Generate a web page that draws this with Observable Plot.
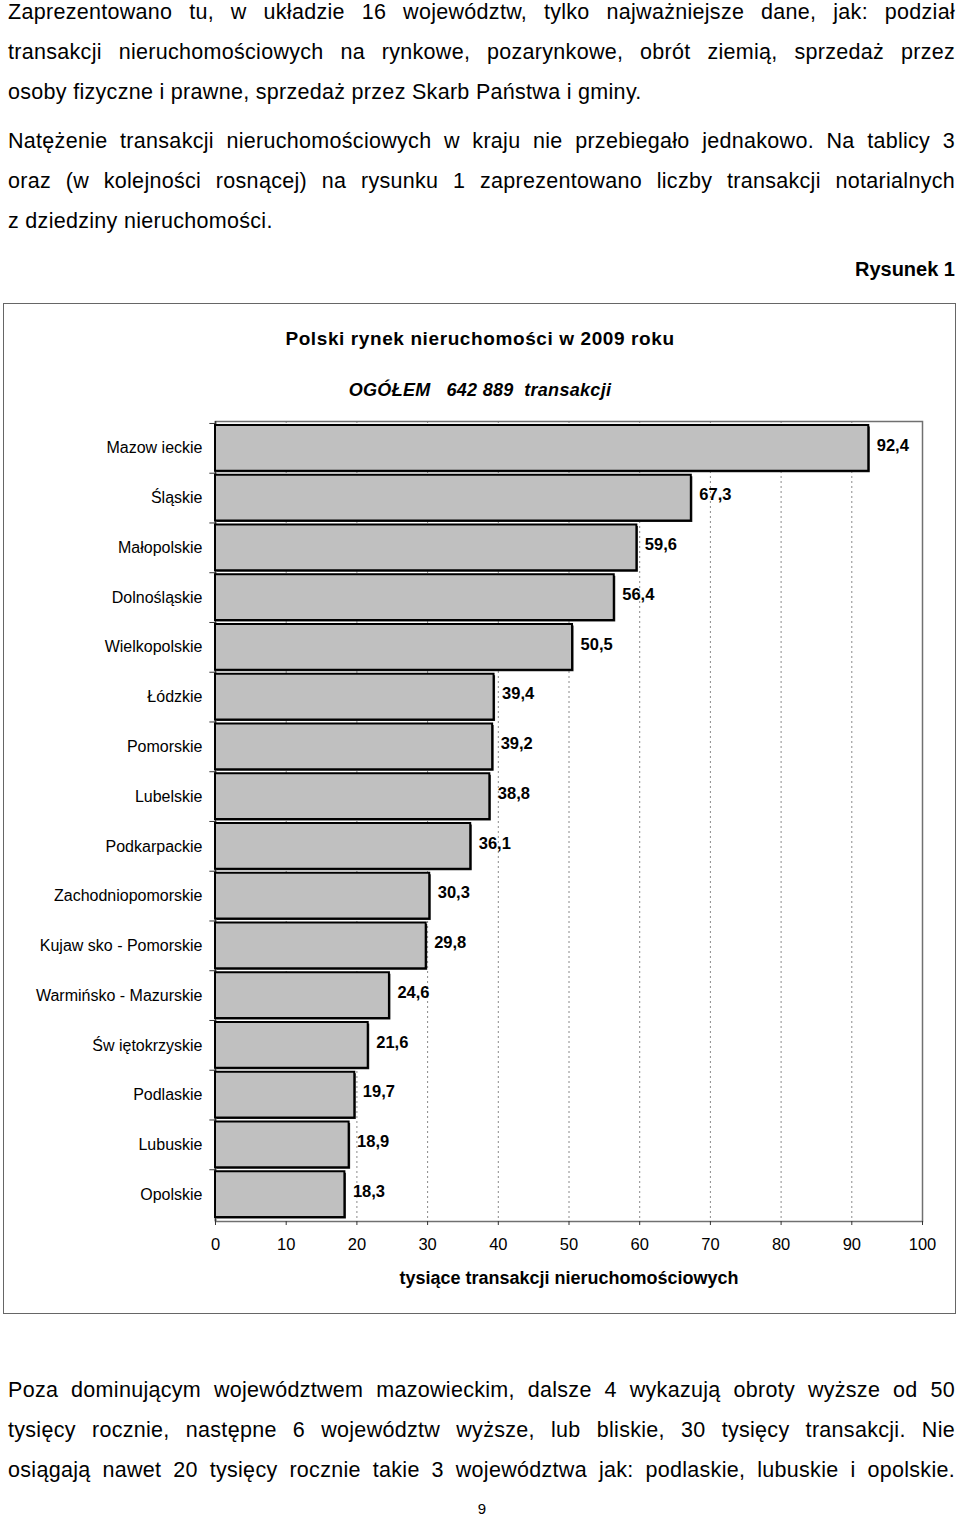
<!DOCTYPE html>
<html>
<head>
<meta charset="utf-8">
<script src="https://cdn.jsdelivr.net/npm/d3@7"></script>
<script src="https://cdn.jsdelivr.net/npm/@observablehq/plot@0.6"></script>
<style>
  html, body { margin: 0; padding: 0; background: #fff; }
  body { width: 960px; height: 1518px; position: relative; overflow: hidden; font-family: "Liberation Sans", Arial, sans-serif; color: #000; }
  .para { position: absolute; left: 8px; width: 947px; font-size: 21.5px; letter-spacing: 0.3px; line-height: 40px; }
  .para div { text-align: justify; text-align-last: justify; height: 40px; overflow: visible; }
  .para div.last { text-align-last: left; }
  .rys { position: absolute; right: 5px; top: 258px; font-size: 20px; font-weight: bold; }
  .box { position: absolute; left: 3px; top: 303px; width: 951px; height: 1009px; border: 1px solid #666; }
  .ctitle { position: absolute; left: 0; width: 960px; text-align: center; font-weight: bold; }
  #chart { position: absolute; left: 0; top: 400px; }
  .pnum { position: absolute; left: 0; width: 964px; text-align: center; top: 1500px; font-size: 15px; }
</style>
</head>
<body>
<div class="para" style="top:-8px;">
  <div>Zaprezentowano tu, w układzie 16 województw, tylko najważniejsze dane, jak: podział</div>
  <div>transakcji nieruchomościowych na rynkowe, pozarynkowe, obrót ziemią, sprzedaż przez</div>
  <div class="last">osoby fizyczne i prawne, sprzedaż przez Skarb Państwa i gminy.</div>
</div>
<div class="para" style="top:121px;">
  <div>Natężenie transakcji nieruchomościowych w kraju nie przebiegało jednakowo. Na tablicy 3</div>
  <div>oraz (w kolejności rosnącej) na rysunku 1 zaprezentowano liczby transakcji notarialnych</div>
  <div class="last">z dziedziny nieruchomości.</div>
</div>
<div class="rys">Rysunek 1</div>
<div class="box"></div>
<div class="ctitle" style="top:328px; font-size:19px; letter-spacing:0.6px;">Polski rynek nieruchomości w 2009 roku</div>
<div class="ctitle" style="top:380px; font-size:18px; font-style:italic; letter-spacing:0.3px;">OGÓŁEM&nbsp;&nbsp; 642 889&nbsp; transakcji</div>
<div id="chart"></div>
<div class="para" style="top:1370px;">
  <div>Poza dominującym województwem mazowieckim, dalsze 4 wykazują obroty wyższe od 50</div>
  <div>tysięcy rocznie, następne 6 województw wyższe, lub bliskie, 30 tysięcy transakcji. Nie</div>
  <div>osiągają nawet 20 tysięcy rocznie takie 3 województwa jak: podlaskie, lubuskie i opolskie.</div>
</div>
<div class="pnum">9</div>
<script>
const regions = ["Mazow ieckie","Śląskie","Małopolskie","Dolnośląskie","Wielkopolskie","Łódzkie","Pomorskie","Lubelskie","Podkarpackie","Zachodniopomorskie","Kujaw sko - Pomorskie","Warmińsko - Mazurskie","Św iętokrzyskie","Podlaskie","Lubuskie","Opolskie"];
const values = [92.4,67.3,59.6,56.4,50.5,39.4,39.2,38.8,36.1,30.3,29.8,24.6,21.6,19.7,18.9,18.3];
const valueLabels = ["92,4","67,3","59,6","56,4","50,5","39,4","39,2","38,8","36,1","30,3","29,8","24,6","21,6","19,7","18,9","18,3"];
const xTicks = [0,10,20,30,40,50,60,70,80,90,100];
const gridTicks = [10,20,30,40,50,60,70,80,90];
const xLabel = "tysiące transakcji nieruchomościowych";

const data = regions.map((name, i) => ({name, value: values[i], label: valueLabels[i]}));

const chart = Plot.plot({
  width: 960,
  height: 900,
  marginLeft: 215,
  marginRight: 38,
  marginTop: 21,
  marginBottom: 79,
  style: {fontFamily: "Liberation Sans, Arial, sans-serif", fontSize: "16px", color: "#000", background: "transparent"},
  x: {domain: [0, 100]},
  y: {domain: regions, padding: 0.08, round: false},
  marks: [
    Plot.gridX(gridTicks, {stroke: "#8a8a8a", strokeOpacity: 1, strokeDasharray: "2,3"}),
    Plot.frame({stroke: "#707070", strokeWidth: 1.5}),
    Plot.ruleX([0], {stroke: "#333", strokeWidth: 1.5}),
    Plot.ruleY(data, {y: "name", x1: -0.8, x2: 0, dy: -24.9, stroke: "#333"}),
    Plot.barX(data, {x: "value", y: "name", fill: "#222", dx: 1.5, dy: 1.5}),
    Plot.barX(data, {x: "value", y: "name", fill: "#c0c0c0", stroke: "#000", strokeWidth: 2}),
    Plot.text(data, {x: "value", y: "name", text: "label", textAnchor: "start", dx: 8, dy: -3, fontWeight: "bold", fontSize: 16.5, fill: "#000"}),
    Plot.axisY({tickSize: 0, tickPadding: 13, label: null, fontSize: 16}),
    Plot.axisX(xTicks, {tickSize: 4, tickPadding: 13, label: null, fontSize: 16.5, stroke: "#333"}),
    Plot.text([xLabel], {frameAnchor: "bottom", dy: 62, fontWeight: "bold", fontSize: 18, fill: "#000"})
  ]
});
document.getElementById("chart").appendChild(chart);
</script>
</body>
</html>
